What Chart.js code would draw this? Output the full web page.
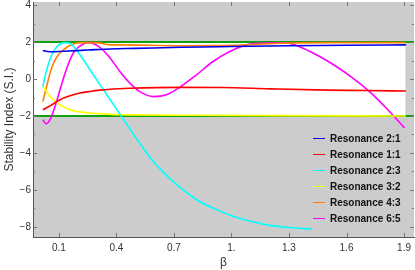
<!DOCTYPE html>
<html>
<head>
<meta charset="utf-8">
<script src="https://cdn.jsdelivr.net/npm/chart.js@4.4.1/dist/chart.umd.min.js"></script>
<style>
html,body{margin:0;padding:0;background:#fff;}
#wrap{width:415px;height:270px;}
</style>
</head>
<body>
<div id="wrap"><canvas id="c" width="415" height="270"></canvas></div>
<script>
// values: beta -> stability index
const res21Beta = [0.016, 0.04, 0.08, 0.15, 0.25, 0.37, 0.5, 0.74, 1.0, 1.3, 1.6, 1.91];
const res21SI   = [1.55, 1.49, 1.48, 1.52, 1.57, 1.63, 1.66, 1.72, 1.76, 1.8, 1.83, 1.85];

const res11Beta = [0.016, 0.054, 0.106, 0.158, 0.21, 0.262, 0.314, 0.366, 0.47, 0.73, 0.95, 1.2, 1.5, 1.7, 1.91];
const res11SI   = [-1.66, -1.45, -1.12, -0.91, -0.76, -0.67, -0.6, -0.55, -0.5, -0.45, -0.46, -0.53, -0.6, -0.62, -0.65];

const res23Beta = [0.016, 0.036, 0.0625, 0.089, 0.132, 0.16, 0.21, 0.262, 0.314, 0.366, 0.418, 0.47, 0.52, 0.58, 0.64, 0.73, 0.83, 0.94, 1.0, 1.1, 1.2, 1.3, 1.42];
const res23SI   = [-0.41, 0.49, 1.3, 1.75, 1.97, 1.92, 1.31, 0.5, -0.3, -1.1, -1.9, -2.7, -3.45, -4.3, -5.0, -5.85, -6.6, -7.15, -7.4, -7.7, -7.92, -8.04, -8.12];

const res32Beta = [0.016, 0.054, 0.106, 0.158, 0.262, 0.31, 0.37, 0.5, 0.8, 1.2, 1.91];
const res32SI   = [-0.37, -0.95, -1.39, -1.66, -1.84, -1.87, -1.91, -1.94, -1.96, -1.98, -2.0];

const res43Beta = [0.016, 0.036, 0.054, 0.08, 0.123, 0.175, 0.227, 0.297, 0.366, 0.418, 0.73, 1.0, 1.25, 1.5, 1.91];
const res43SI   = [-1.22, -0.41, 0.32, 1.04, 1.58, 1.9, 1.97, 1.97, 1.85, 1.85, 1.8, 1.82, 1.94, 1.97, 1.97];

const res65Beta = [0.016, 0.033, 0.054, 0.08, 0.106, 0.132, 0.158, 0.184, 0.227, 0.258, 0.314, 0.366, 0.418, 0.47, 0.522, 0.595, 0.661, 0.73, 0.818, 0.904, 0.991, 1.078, 1.165, 1.25, 1.3, 1.373, 1.46, 1.547, 1.633, 1.72, 1.807, 1.903];
const res65SI   = [-2.2, -2.42, -2.2, -1.49, -0.58, 0.32, 1.04, 1.54, 1.9, 1.97, 1.71, 1.15, 0.41, -0.22, -0.68, -0.95, -0.85, -0.45, 0.23, 0.95, 1.49, 1.85, 1.94, 1.96, 1.94, 1.67, 1.22, 0.68, 0.05, -0.68, -1.57, -2.65];

const seriesNames = ['Resonance 2:1', 'Resonance 1:1', 'Resonance 2:3', 'Resonance 3:2', 'Resonance 4:3', 'Resonance 6:5'];
const seriesColors = ['#0000ee', '#ff0000', '#00ffff', '#ffff00', '#ff8000', '#ff00ff'];

const stableBounds = [-2, 2];
const betaEnd = 1.907;

const xTicks = [0.1, 0.4, 0.7, 1.0, 1.3, 1.6, 1.9];
const xTickLabels = ['0.1', '0.4', '0.7', '1.', '1.3', '1.6', '1.9'];
const yTicks = [-8, -6, -4, -2, 0, 2, 4];
const yTickLabels = ['\u22128', '\u22126', '\u22124', '\u22122', '0', '2', '4'];
const yMinor = [-7, -5, -3, -1, 1, 3];

const betas = [res21Beta, res11Beta, res23Beta, res32Beta, res43Beta, res65Beta];
const sis = [res21SI, res11SI, res23SI, res32SI, res43SI, res65SI];

const datasets = seriesNames.map((name, i) => ({
  label: name,
  data: betas[i].map((b, k) => ({x: b, y: sis[i][k]})),
  borderColor: seriesColors[i],
  backgroundColor: seriesColors[i],
  borderWidth: 1.6,
  pointRadius: 0,
  showLine: true,
  cubicInterpolationMode: 'monotone',
  fill: false
}));

const FONT = 'Liberation Sans, Arial, sans-serif';

const panel = {
  id: 'panel',
  beforeDraw(chart) {
    const {ctx, chartArea: a, scales: {x, y}} = chart;
    ctx.save();
    ctx.fillStyle = '#cccccc';
    ctx.fillRect(a.left, a.top, a.right - a.left, a.bottom - a.top);
    const yTop = y.getPixelForValue(stableBounds[1]);
    const yBot = y.getPixelForValue(stableBounds[0]);
    ctx.fillStyle = '#ffffff';
    ctx.fillRect(a.left, yTop, x.getPixelForValue(betaEnd) - a.left, yBot - yTop);
    ctx.restore();
  },
  beforeDatasetsDraw(chart) {
    const {ctx, chartArea: a, scales: {y}} = chart;
    ctx.save();
    ctx.strokeStyle = '#10a010';
    ctx.lineWidth = 2;
    stableBounds.forEach(v => {
      const py = y.getPixelForValue(v);
      ctx.beginPath(); ctx.moveTo(a.left, py); ctx.lineTo(a.right, py); ctx.stroke();
    });
    ctx.restore();
  },
  afterDraw(chart) {
    const {ctx, chartArea: a, scales: {x, y}} = chart;
    ctx.save();
    // small inner ticks
    ctx.strokeStyle = '#777';
    ctx.lineWidth = 1;
    const tick = (x0, y0, x1, y1) => { ctx.beginPath(); ctx.moveTo(x0, y0); ctx.lineTo(x1, y1); ctx.stroke(); };
    yTicks.forEach(v => {
      const py = Math.round(y.getPixelForValue(v)) + 0.5;
      tick(a.left, py, a.left + 4, py); tick(a.right, py, a.right - 4, py);
    });
    yMinor.forEach(v => {
      const py = Math.round(y.getPixelForValue(v)) + 0.5;
      tick(a.left, py, a.left + 2, py); tick(a.right, py, a.right - 2, py);
    });
    xTicks.forEach(v => {
      const px = Math.round(x.getPixelForValue(v)) + 0.5;
      tick(px, a.bottom, px, a.bottom - 4); tick(px, a.top, px, a.top + 4);
    });
    // legend
    ctx.font = 'bold 10px ' + FONT;
    ctx.textBaseline = 'middle';
    ctx.textAlign = 'left';
    chart.data.datasets.forEach((ds, i) => {
      const ly = 138.5 + i * 16;
      ctx.strokeStyle = ds.borderColor;
      ctx.lineWidth = 1;
      tick(313, ly, 325, ly);
      ctx.fillStyle = '#111';
      ctx.fillText(ds.label, 330, ly + 0.5);
    });
    ctx.restore();
  }
};

new Chart(document.getElementById('c'), {
  type: 'scatter',
  data: {datasets},
  options: {
    responsive: false,
    devicePixelRatio: 1,
    animation: false,
    layout: {padding: {top: 2, right: 1, left: 0, bottom: 0}},
    plugins: {legend: {display: false}, tooltip: {enabled: false}},
    scales: {
      x: {
        type: 'linear', min: -0.035, max: 1.952,
        afterBuildTicks: s => { s.ticks = xTicks.map(v => ({value: v})); },
        afterFit: s => { s.height = 33; s.paddingLeft = 0; s.paddingRight = 0; },
        ticks: {
          callback: v => xTickLabels[xTicks.indexOf(v)],
          font: {size: 10, family: FONT}, color: '#333', padding: 5,
          maxRotation: 0, autoSkip: false
        },
        grid: {display: false, drawTicks: false},
        border: {display: true, color: '#555', width: 1},
        title: {display: true, text: 'β', font: {size: 12, family: FONT}, color: '#333', padding: {top: 0, bottom: 0}}
      },
      y: {
        type: 'linear', min: -8.55, max: 4.17,
        afterBuildTicks: s => { s.ticks = yTicks.map(v => ({value: v})); },
        afterFit: s => { s.width = 33; s.paddingTop = 0; s.paddingBottom = 0; },
        ticks: {
          callback: v => yTickLabels[yTicks.indexOf(v)],
          font: {size: 10, family: FONT}, color: '#333', padding: 2, autoSkip: false
        },
        grid: {display: false, drawTicks: false},
        border: {display: true, color: '#555', width: 1},
        title: {display: true, text: 'Stability Index (S.I.)', font: {size: 12, family: FONT}, color: '#333', padding: {top: 2, bottom: 0}}
      }
    }
  },
  plugins: [panel]
});
</script>
</body>
</html>
